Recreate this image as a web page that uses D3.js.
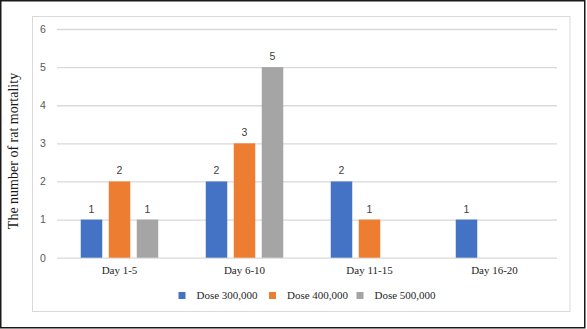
<!DOCTYPE html>
<html>
<head>
<meta charset="utf-8">
<script src="https://cdn.jsdelivr.net/npm/d3@7/dist/d3.min.js"></script>
<style>
html,body{margin:0;padding:0;background:#fff;}
svg{display:block;}
</style>
</head>
<body>
<svg id="chart" width="587" height="329"></svg>
<script>
const categories = ["Day 1-5", "Day 6-10", "Day 11-15", "Day 16-20"];
const seriesNames = ["Dose 300,000", "Dose 400,000", "Dose 500,000"];
const dose300 = [1, 2, 2, 1];
const dose400 = [2, 3, 1, null];
const dose500 = [1, 5, null, null];
const yTicks = [0, 1, 2, 3, 4, 5, 6];
const colors = ["#4472C4", "#ED7D31", "#A5A5A5"];

const seriesValues = [dose300, dose400, dose500];
const svg = d3.select("#chart");

// outer frame
svg.append("rect").attr("x", 0.75).attr("y", 0.75).attr("width", 584).attr("height", 327)
  .attr("fill", "#fff").attr("stroke", "#1a1a1a").attr("stroke-width", 1.5);
// chart area frame
svg.append("rect").attr("x", 32.5).attr("y", 16.5).attr("width", 537.5).attr("height", 295)
  .attr("fill", "#fff").attr("stroke", "#d9d9d9").attr("stroke-width", 1);

const plot = {left: 57, right: 557, top: 29, bottom: 257.7};

const y = d3.scaleLinear().domain([0, 6]).range([plot.bottom, plot.top]);
const x0 = d3.scaleBand().domain(categories).range([plot.left, plot.right])
  .paddingInner(0.38).paddingOuter(0.19);
const x1 = d3.scaleBand().domain(seriesNames).range([0, x0.bandwidth()])
  .paddingInner(0.232).paddingOuter(0);

// gridlines via axis
const yGrid = d3.axisLeft(y).tickValues(yTicks).tickSize(-(plot.right - plot.left)).tickFormat("");
const gg = svg.append("g").attr("transform", `translate(${plot.left},0)`).call(yGrid);
gg.select(".domain").remove();
gg.selectAll("line").attr("stroke", "#d9d9d9").attr("stroke-width", 1.3);

// y tick labels
const yAxis = d3.axisLeft(y).tickValues(yTicks).tickFormat(d3.format("d")).tickSize(0).tickPadding(0);
const ya = svg.append("g").attr("transform", "translate(46,0)").call(yAxis);
ya.select(".domain").remove();
ya.selectAll("text").attr("font-family", "Liberation Sans, Arial, sans-serif")
  .attr("font-size", 10.5).attr("fill", "#595959").attr("text-anchor", "middle").attr("dx", -3);

// bars
const groups = svg.append("g").selectAll("g").data(categories).join("g")
  .attr("transform", d => `translate(${x0(d)},0)`);

groups.each(function(cat, ci) {
  const g = d3.select(this);
  seriesNames.forEach((s, si) => {
    const v = seriesValues[si][ci];
    if (v == null) return;
    g.append("rect")
      .attr("x", x1(s)).attr("y", y(v))
      .attr("width", x1.bandwidth()).attr("height", y(0) - y(v))
      .attr("fill", colors[si]);
    g.append("text")
      .attr("x", x1(s) + x1.bandwidth() / 2).attr("y", y(v) - 7)
      .attr("text-anchor", "middle")
      .attr("font-family", "Liberation Sans, Arial, sans-serif")
      .attr("font-size", 10.5).attr("fill", "#404040")
      .text(v);
  });
});

// x axis labels
const xAxis = d3.axisBottom(x0).tickSize(0).tickPadding(0);
const xa = svg.append("g").attr("transform", `translate(0,${plot.bottom + 16})`).call(xAxis);
xa.select(".domain").remove();
xa.selectAll("text").attr("font-family", "Liberation Serif, Times New Roman, serif")
  .attr("font-size", 11).attr("fill", "#262626").attr("dy", 0);

// y axis title
svg.append("text")
  .attr("transform", "translate(18,151) rotate(-90)")
  .attr("text-anchor", "middle")
  .attr("font-family", "Liberation Serif, Times New Roman, serif")
  .attr("font-size", 14).attr("fill", "#1a1a1a")
  .text("The number of rat mortality");

// legend
const legendX = [178.5, 269, 356.5];
const lg = svg.append("g").selectAll("g").data(seriesNames).join("g")
  .attr("transform", (d, i) => `translate(${legendX[i]},292)`);
lg.append("rect").attr("width", 7).attr("height", 7).attr("fill", (d, i) => colors[i]);
lg.append("text").attr("x", 18).attr("y", 7)
  .attr("font-family", "Liberation Serif, Times New Roman, serif")
  .attr("font-size", 11).attr("fill", "#262626")
  .text(d => d);
</script>
</body>
</html>
